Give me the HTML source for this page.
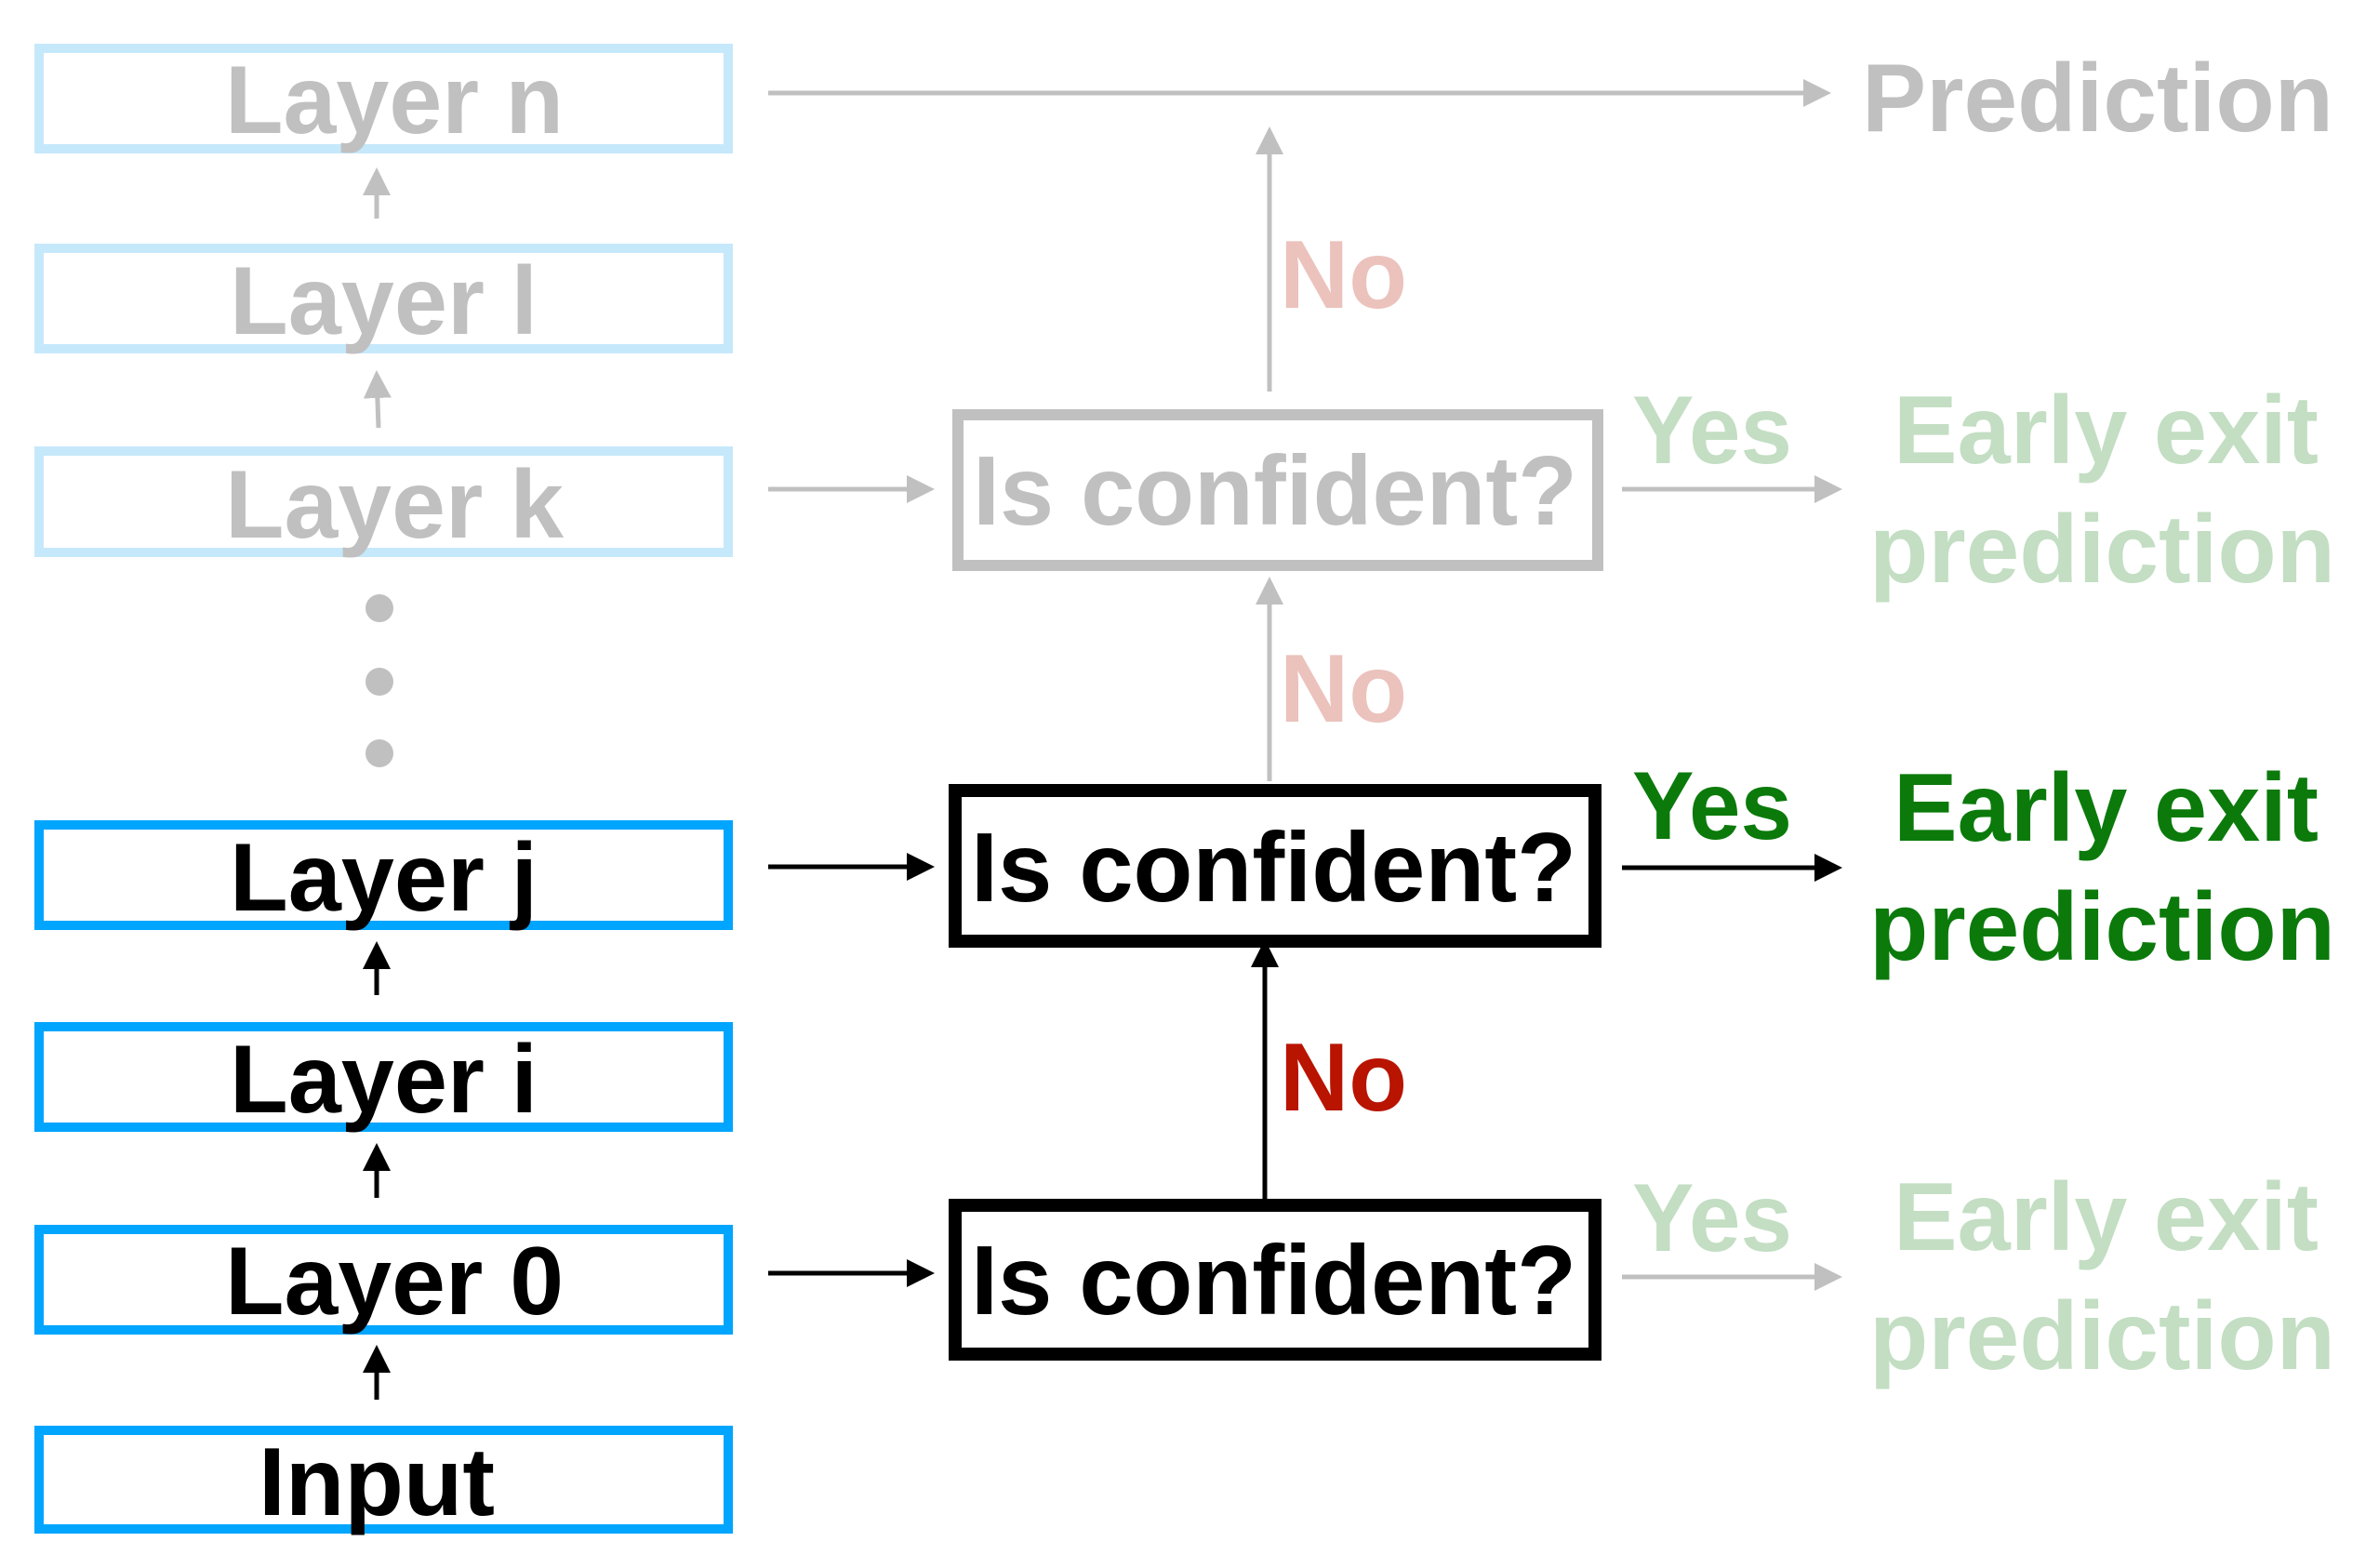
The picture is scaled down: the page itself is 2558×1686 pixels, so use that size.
<!DOCTYPE html>
<html><head><meta charset="utf-8"><style>
html,body{margin:0;padding:0;background:#fff;}
svg{display:block;}
text{font-family:"Liberation Sans",sans-serif;font-weight:bold;}
</style></head><body>
<svg width="2558" height="1686" viewBox="0 0 2558 1686" xmlns="http://www.w3.org/2000/svg">
<defs>
<marker id="ab" markerWidth="6" markerHeight="6" refX="5" refY="3" orient="auto" markerUnits="strokeWidth"><path d="M0,0 L6,3 L0,6 z" fill="#000"/></marker>
<marker id="ag" markerWidth="6" markerHeight="6" refX="5" refY="3" orient="auto" markerUnits="strokeWidth"><path d="M0,0 L6,3 L0,6 z" fill="#c0c0c0"/></marker>
</defs>
<g transform="translate(-4,-5)">
<g fill="none" stroke-width="10">
<rect x="46" y="57" width="741" height="108" stroke="#c6e8fb"/>
<rect x="46" y="272" width="741" height="108" stroke="#c6e8fb"/>
<rect x="46" y="490" width="741" height="109" stroke="#c6e8fb"/>
<rect x="46" y="892" width="741" height="108" stroke="#00a5ff"/>
<rect x="46" y="1109" width="741" height="108" stroke="#00a5ff"/>
<rect x="46" y="1327" width="741" height="108" stroke="#00a5ff"/>
<rect x="46" y="1543" width="741" height="106" stroke="#00a5ff"/>
</g>
<g font-size="104">
<text x="246" y="148" textLength="364" lengthAdjust="spacingAndGlyphs" fill="#c0c0c0">Layer n</text>
<text x="251" y="364" textLength="331" lengthAdjust="spacingAndGlyphs" fill="#c0c0c0">Layer l</text>
<text x="246" y="583" textLength="364" lengthAdjust="spacingAndGlyphs" fill="#c0c0c0">Layer k</text>
<text x="251" y="984" textLength="331" lengthAdjust="spacingAndGlyphs" fill="#000">Layer j</text>
<text x="251" y="1201" textLength="331" lengthAdjust="spacingAndGlyphs" fill="#000">Layer i</text>
<text x="246" y="1418" textLength="364" lengthAdjust="spacingAndGlyphs" fill="#000">Layer 0</text>
<text x="282" y="1634" textLength="254" lengthAdjust="spacingAndGlyphs" fill="#000">Input</text>
</g>
<g fill="#c0c0c0"><circle cx="412" cy="659" r="15"/><circle cx="412" cy="738" r="15"/><circle cx="412" cy="815" r="15"/></g>
<g stroke-width="5">
<line x1="409" y1="240" x2="409" y2="190" stroke="#c0c0c0" marker-end="url(#ag)"/>
<line x1="411" y1="465" x2="409" y2="408" stroke="#c0c0c0" marker-end="url(#ag)"/>
<line x1="409" y1="1075" x2="409" y2="1022" stroke="#000" marker-end="url(#ab)"/>
<line x1="409" y1="1293" x2="409" y2="1239" stroke="#000" marker-end="url(#ab)"/>
<line x1="409" y1="1510" x2="409" y2="1456" stroke="#000" marker-end="url(#ab)"/>
</g>
<rect x="1034" y="451" width="688" height="162" fill="none" stroke="#c0c0c0" stroke-width="12"/>
<rect x="1031" y="855" width="688" height="162" fill="none" stroke="#000" stroke-width="14"/>
<rect x="1031" y="1301" width="688" height="160" fill="none" stroke="#000" stroke-width="14"/>
<g font-size="106">
<text x="1050" y="569" textLength="650" lengthAdjust="spacingAndGlyphs" fill="#c0c0c0">Is confident?</text>
<text x="1048" y="974" textLength="651" lengthAdjust="spacingAndGlyphs" fill="#000">Is confident?</text>
<text x="1048" y="1418" textLength="651" lengthAdjust="spacingAndGlyphs" fill="#000">Is confident?</text>
</g>
<g stroke-width="5">
<line x1="830" y1="105" x2="1968" y2="105" stroke="#c0c0c0" marker-end="url(#ag)"/>
<line x1="830" y1="531" x2="1004" y2="531" stroke="#c0c0c0" marker-end="url(#ag)"/>
<line x1="830" y1="937" x2="1004" y2="937" stroke="#000" marker-end="url(#ab)"/>
<line x1="830" y1="1374" x2="1004" y2="1374" stroke="#000" marker-end="url(#ab)"/>
<line x1="1748" y1="531" x2="1980" y2="531" stroke="#c0c0c0" marker-end="url(#ag)"/>
<line x1="1748" y1="938" x2="1980" y2="938" stroke="#000" marker-end="url(#ab)"/>
<line x1="1748" y1="1378" x2="1980" y2="1378" stroke="#c0c0c0" marker-end="url(#ag)"/>
<line x1="1369" y1="426" x2="1369" y2="146" stroke="#c0c0c0" marker-end="url(#ag)"/>
<line x1="1369" y1="845" x2="1369" y2="630" stroke="#c0c0c0" marker-end="url(#ag)"/>
<line x1="1364" y1="1294" x2="1364" y2="1020" stroke="#000" marker-end="url(#ab)"/>
</g>
<g font-size="104">
<text x="1380" y="336" textLength="137" lengthAdjust="spacingAndGlyphs" fill="#ebc2bc">No</text>
<text x="1380" y="781" textLength="137" lengthAdjust="spacingAndGlyphs" fill="#ebc2bc">No</text>
<text x="1380" y="1199" textLength="137" lengthAdjust="spacingAndGlyphs" fill="#b81400">No</text>
<text x="1759" y="503" textLength="172" lengthAdjust="spacingAndGlyphs" fill="#c3dec3">Yes</text>
<text x="1759" y="907" textLength="172" lengthAdjust="spacingAndGlyphs" fill="#0b7a0b">Yes</text>
<text x="1759" y="1350" textLength="172" lengthAdjust="spacingAndGlyphs" fill="#c3dec3">Yes</text>
<text x="2006" y="146" textLength="507" lengthAdjust="spacingAndGlyphs" fill="#c0c0c0">Prediction</text>
<text x="2040" y="503" textLength="457" lengthAdjust="spacingAndGlyphs" fill="#c3dec3">Early exit</text>
<text x="2014" y="631" textLength="501" lengthAdjust="spacingAndGlyphs" fill="#c3dec3">prediction</text>
<text x="2040" y="909" textLength="457" lengthAdjust="spacingAndGlyphs" fill="#0b7a0b">Early exit</text>
<text x="2014" y="1037" textLength="501" lengthAdjust="spacingAndGlyphs" fill="#0b7a0b">prediction</text>
<text x="2040" y="1349" textLength="457" lengthAdjust="spacingAndGlyphs" fill="#c3dec3">Early exit</text>
<text x="2014" y="1477" textLength="501" lengthAdjust="spacingAndGlyphs" fill="#c3dec3">prediction</text>
</g>
</g>
</svg>
</body></html>
